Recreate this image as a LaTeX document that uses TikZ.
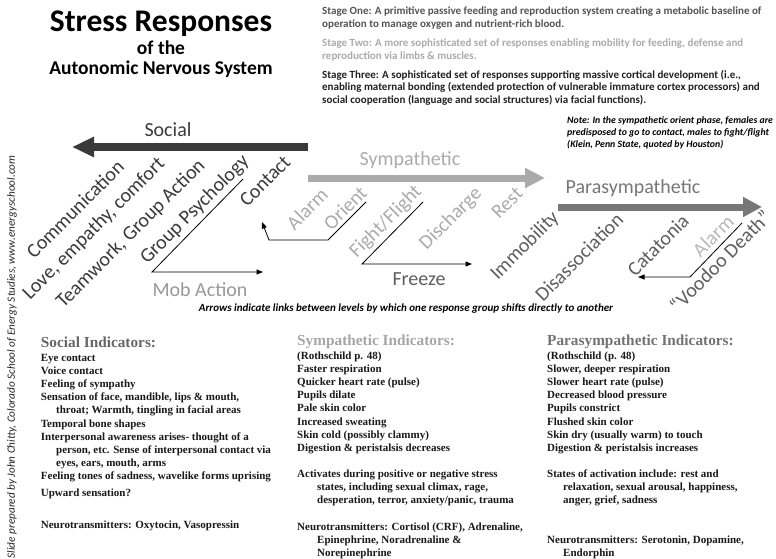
\documentclass[tikz,border=0pt]{standalone}
\usepackage{fontspec}
\setmainfont{Carlito}
\newfontfamily\timesb{Liberation Serif}
\usetikzlibrary{arrows.meta}
\definecolor{socc}{HTML}{3A3A3A}
\definecolor{symc}{HTML}{ABABAB}
\definecolor{parc}{HTML}{777777}
\definecolor{parl}{HTML}{5E5E5E}
\definecolor{alc}{HTML}{B8B8B8}
\tikzset{
  rl/.style={rotate=45, inner sep=0, font=\fontsize{20}{24}\selectfont, anchor=center},
  soclbl/.style={rl, text=socc},
  symlbl/.style={rl, text=symc},
  parlbl/.style={rl, text=parl},
  flat/.style={inner sep=0, font=\fontsize{20}{24}\selectfont, anchor=base},
  body/.style={font=\timesb\bfseries\fontsize{11}{13}\selectfont, anchor=base west, inner sep=0, text=black!90},
  head/.style={font=\timesb\bfseries\fontsize{15.3}{18}\selectfont, anchor=base west, inner sep=0},
  stage/.style={font=\bfseries\fontsize{11}{13}\selectfont, anchor=base west, inner sep=0},
  notetxt/.style={font=\bfseries\itshape\fontsize{9.8}{11}\selectfont, anchor=base west, inner sep=0, text=black},
  link/.style={draw=black, line width=0.8pt, -{Triangle[length=6.5pt,width=5pt]}},
}
\begin{document}
\begin{tikzpicture}[x=1pt,y=-1pt]
\useasboundingbox (0,0) rectangle (776,559);
\fill[white] (0,0) rectangle (776,559);
% title
\node[font=\bfseries\fontsize{31.5}{36}\selectfont, anchor=base, inner sep=0] (title) at (161,32) {Stress Responses};
\node[font=\bfseries\fontsize{19.5}{22}\selectfont, anchor=base, inner sep=0] (sub1) at (161,55) {of the};
\node[font=\bfseries\fontsize{19.5}{22}\selectfont, anchor=base, inner sep=0] (sub2) at (161,75) {Autonomic Nervous System};
% stages
\node[stage, text=black!67] (s1a) at (322,15) {Stage One: A primitive passive feeding and reproduction system creating a metabolic baseline of};
\node[stage, text=black!67] (s1b) at (322,27.5) {operation to manage oxygen and nutrient-rich blood.};
\node[stage, text=black!33] (s2a) at (322,46.7) {Stage Two: A more sophisticated set of responses enabling mobility for feeding, defense and};
\node[stage, text=black!33] (s2b) at (322,59.3) {reproduction via limbs \& muscles.};
\node[stage, text=black!87] (s3a) at (322,78.3) {Stage Three: A sophisticated set of responses supporting massive cortical development (i.e.,};
\node[stage, text=black!87] (s3b) at (322,91) {enabling maternal bonding (extended protection of vulnerable immature cortex processors) and};
\node[stage, text=black!87] (s3c) at (322,103.5) {social cooperation (language and social structures) via facial functions).};
% note
\node[notetxt] (n1) at (567,124) {Note: In the sympathetic orient phase, females are};
\node[notetxt] (n2) at (567,135.5) {predisposed to go to contact, males to fight/flight};
\node[notetxt] (n3) at (567,147) {(Klein, Penn State, quoted by Houston)};
% big arrows
\coordinate (soc0) at (308,147); \coordinate (soc1) at (72,147);
\draw[socc, line width=8pt, -{Triangle[length=22pt,width=19pt]}] (soc0) -- (soc1);
\coordinate (sym0) at (308,178); \coordinate (sym1) at (545,178);
\draw[symc, line width=7pt, -{Triangle[length=20pt,width=19pt]}] (sym0) -- (sym1);
\coordinate (par0) at (558,207); \coordinate (par1) at (762,207);
\draw[parc, line width=7pt, -{Triangle[length=19pt,width=19pt]}] (par0) -- (par1);
\node[flat, text=socc] (lsoc) at (168,137) {Social};
\node[flat, text=symc] (lsym) at (410,165) {Sympathetic};
\node[flat, text=parc] (lpar) at (633,193) {Parasympathetic};
% social labels
\node[soclbl] (comm) at (75,209) {Communication};
\node[soclbl] (love) at (94,229) {Love, empathy, comfort};
\node[soclbl] (team) at (131,234) {Teamwork, Group Action};
\node[soclbl] (gpsy) at (195,210) {Group Psychology};
\node[soclbl] (cont) at (265,181) {Contact};
% sympathetic labels
\node[symlbl] (alarm) at (307,209) {Alarm};
\node[symlbl] (orient) at (345,208) {Orient};
\node[symlbl] (fight) at (386,222) {Fight/Flight};
\node[symlbl] (disch) at (451,219) {Discharge};
\node[symlbl] (rest) at (507,203) {Rest};
% parasympathetic labels
\node[parlbl] (immo) at (525,246) {Immobility};
\node[parlbl] (disa) at (579,257) {Disassociation};
\node[parlbl] (cata) at (658,245) {Catatonia};
\node[rl, text=alc] (alarm2) at (713,236) {Alarm};
\node[parlbl] (voodoo) at (720,261) {“Voodoo Death”};
% flat labels
\node[flat, text=black!40] (mob) at (200,296) {Mob Action};
\node[flat, text=parl] (freeze) at (419,285) {Freeze};
% link lines
\coordinate (gp1) at (243,179); \coordinate (gp2) at (152,272); \coordinate (gp3) at (263,272);
\draw[link] (gp1) -- (gp2) -- (gp3);
\coordinate (or1) at (366,202); \coordinate (or2) at (328,240); \coordinate (or3) at (269,240); \coordinate (or4) at (262,222);
\draw[link] (or1) -- (or2) -- (or3) -- (or4);
\coordinate (ff1) at (423,202); \coordinate (ff2) at (362,264); \coordinate (ff3) at (472,264);
\draw[link] (ff1) -- (ff2) -- (ff3);
\coordinate (vd1) at (742,223); \coordinate (vd2) at (690,277); \coordinate (vd3) at (638,277);
\draw[link] (vd1) -- (vd2) -- (vd3);
% caption
\node[font=\bfseries\itshape\fontsize{11}{13}\selectfont, anchor=base, inner sep=0] (cap) at (406,311.5) {Arrows indicate links between levels by which one response group shifts directly to another};
% credit
\node[rotate=90, font=\itshape\fontsize{11.2}{13}\selectfont, inner sep=0, text=black!85] (credit) at (12,357) {Slide prepared by John Chitty, Colorado School of Energy Studies, www.energyschool.com};
% social column
\node[head, text=black!60] (sh) at (40.7,347) {Social Indicators:};
\foreach \xx/\yy/\txt [count=\i] in {
 40.7/361.5/{Eye contact},
 40.7/374.6/{Voice contact},
 40.7/387.7/{Feeling of sympathy},
 40.7/400.8/{Sensation of face, mandible, lips \& mouth,},
 56/413.9/{throat; Warmth, tingling in facial areas},
 40.7/427/{Temporal bone shapes},
 40.7/440.1/{Interpersonal awareness arises- thought of a},
 56/453.2/{person, etc. Sense of interpersonal contact via},
 56/466.3/{eyes, ears, mouth, arms},
 40.7/479.4/{Feeling tones of sadness, wavelike forms uprising},
 40.7/496.5/{Upward sensation?},
 40.7/528.5/{Neurotransmitters: Oxytocin, Vasopressin}}
 \node[body] (sc\i) at (\xx,\yy) {\txt};
% sympathetic column
\node[head, text=black!35] (yh) at (297,345) {Sympathetic Indicators:};
\foreach \xx/\yy/\txt [count=\i] in {
 297/359.5/{(Rothschild p. 48)},
 297/372.6/{Faster respiration},
 297/385.7/{Quicker heart rate (pulse)},
 297/398.8/{Pupils dilate},
 297/411.9/{Pale skin color},
 297/425/{Increased sweating},
 297/438.1/{Skin cold (possibly clammy)},
 297/451.2/{Digestion \& peristalsis decreases},
 297/477.4/{Activates during positive or negative stress},
 317/490.5/{states, including sexual climax, rage,},
 317/503.6/{desperation, terror, anxiety/panic, trauma},
 297/530.5/{Neurotransmitters: Cortisol (CRF), Adrenaline,},
 317/543.5/{Epinephrine, Noradrenaline \&},
 317/556.5/{Norepinephrine}}
 \node[body] (yc\i) at (\xx,\yy) {\txt};
% parasympathetic column
\node[head, text=black!55] (ph) at (547,345) {Parasympathetic Indicators:};
\foreach \xx/\yy/\txt [count=\i] in {
 547/359.5/{(Rothschild (p. 48)},
 547/372.6/{Slower, deeper respiration},
 547/385.7/{Slower heart rate (pulse)},
 547/398.8/{Decreased blood pressure},
 547/411.9/{Pupils constrict},
 547/425/{Flushed skin color},
 547/438.1/{Skin dry (usually warm) to touch},
 547/451.2/{Digestion \& peristalsis increases},
 547/477.4/{States of activation include: rest and},
 563/490.5/{relaxation, sexual arousal, happiness,},
 563/503.6/{anger, grief, sadness},
 547/543.5/{Neurotransmitters: Serotonin, Dopamine,},
 563/556/{Endorphin}}
 \node[body] (pc\i) at (\xx,\yy) {\txt};
\end{tikzpicture}
\end{document}
